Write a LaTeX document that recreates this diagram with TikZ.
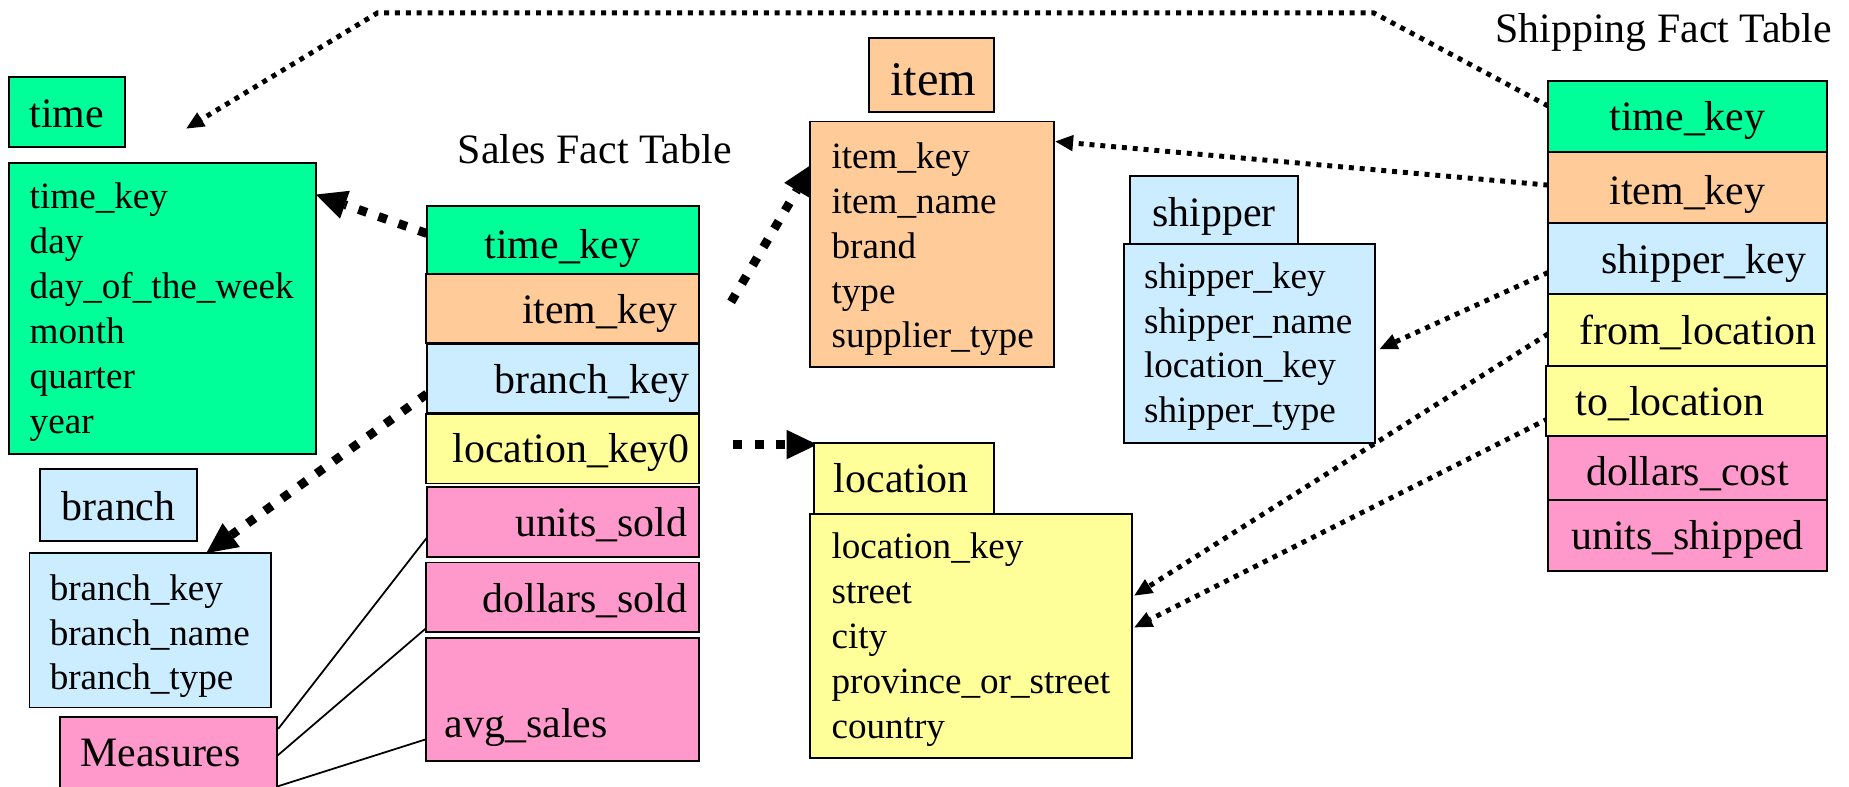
\documentclass[tikz,border=0pt]{standalone}
\usepackage{fontspec}
\setmainfont{Liberation Serif}
\usetikzlibrary{arrows.meta,backgrounds,calc}
\definecolor{keyGreen}{RGB}{0,255,153}
\definecolor{itemPeach}{RGB}{255,204,153}
\definecolor{paleBlue}{RGB}{204,236,255}
\definecolor{paleYellow}{RGB}{255,255,153}
\definecolor{measPink}{RGB}{255,153,204}
\begin{document}
\begin{tikzpicture}[x=1pt,y=-1pt,
  tbl/.style={draw=black,line width=1.6pt,rectangle,inner sep=0pt,outer sep=0pt,anchor=north west},
  fld/.style={font=\fontsize{31.5}{38}\selectfont,inner sep=0pt,anchor=base west},
  ttl/.style={font=\fontsize{35.5}{42}\selectfont,inner sep=0pt,anchor=base west},
  fkthick/.style={line width=7.5pt,dash pattern=on 7.5pt off 10.5pt,
    -{Triangle[length=26pt,width=25pt,line width=0pt]}},
  fkthin/.style={line width=4.2pt,dash pattern=on 4.2pt off 5pt,
    -{Triangle[length=15pt,width=14pt,line width=0pt]}},
  measline/.style={line width=1.5pt}]
\useasboundingbox (0,0) rectangle (1568,667);

% ---- time dimension ----
\node[tbl,fill=keyGreen,minimum width=98,minimum height=60] (timeTab) at (8,65) {};
\node[ttl] (timeName) at (25,108) {time};
\node[tbl,fill=keyGreen,minimum width=260,minimum height=247] (timeBody) at (8,138) {};
\foreach \t [count=\i] in {time\_key,day,day\_of\_the\_week,month,quarter,year}
  \node[fld] (timeF\i) at (25,{177+38.2*(\i-1)}) {\t};

% ---- branch dimension ----
\node[tbl,fill=paleBlue,minimum width=133,minimum height=61] (branchTab) at (34,398) {};
\node[ttl] (branchName) at (52,441) {branch};
\node[tbl,fill=paleBlue,minimum width=205,minimum height=131] (branchBody) at (25,469) {};
\foreach \t [count=\i] in {branch\_key,branch\_name,branch\_type}
  \node[fld] (branchF\i) at (42,{509+38*(\i-1)}) {\t};

% ---- measures ----
\node[tbl,fill=measPink,minimum width=184,minimum height=80] (measTab) at (51,608) {};
\node[ttl] (measName) at (68,650) {Measures};

% ---- sales fact table ----
\node[ttl] (salesTitle) at (388,139) {Sales Fact Table};
\node[tbl,fill=keyGreen,minimum width=231,minimum height=57] (sTime) at (362,175) {};
\node[tbl,fill=itemPeach,minimum width=232,minimum height=59] (sItem) at (361,232) {};
\node[tbl,fill=paleBlue,minimum width=231,minimum height=58] (sBranch) at (362,292) {};
\node[tbl,fill=paleYellow,minimum width=232,minimum height=59] (sLoc) at (361,351) {};
\node[tbl,fill=measPink,minimum width=231,minimum height=59] (sUnits) at (362,413) {};
\node[tbl,fill=measPink,minimum width=232,minimum height=59] (sDollars) at (361,477) {};
\node[tbl,fill=measPink,minimum width=232,minimum height=104] (sAvg) at (361,541) {};
\node[ttl,anchor=base] (sTimeT) at (477,219) {time\_key};
\node[ttl,anchor=base east] (sItemT) at (575,274) {item\_key};
\node[ttl,anchor=base east] (sBranchT) at (585,334) {branch\_key};
\node[ttl,anchor=base east] (sLocT) at (585,392) {location\_key0};
\node[ttl,anchor=base east] (sUnitsT) at (583,455) {units\_sold};
\node[ttl,anchor=base east] (sDollarsT) at (583,519) {dollars\_sold};
\node[ttl] (sAvgT) at (377,625) {avg\_sales};

% ---- item dimension ----
\node[tbl,fill=itemPeach,minimum width=106,minimum height=63] (itemTab) at (737,32) {};
\node[ttl,font=\fontsize{41}{48}\selectfont] (itemName) at (755,81) {item};
\node[tbl,fill=itemPeach,minimum width=207,minimum height=208] (itemBody) at (687,103) {};
\foreach \t [count=\i] in {item\_key,item\_name,brand,type,supplier\_type}
  \node[fld] (itemF\i) at (705,{143+38*(\i-1)}) {\t};

% ---- shipper dimension ----
\node[tbl,fill=paleBlue,minimum width=143,minimum height=59] (shipTab) at (958,149) {};
\node[ttl] (shipName) at (977,192) {shipper};
\node[tbl,fill=paleBlue,minimum width=213,minimum height=169] (shipBody) at (953,207) {};
\foreach \t [count=\i] in {shipper\_key,shipper\_name,location\_key,shipper\_type}
  \node[fld] (shipF\i) at (970,{245+37.7*(\i-1)}) {\t};

% ---- location dimension ----
\node[tbl,fill=paleYellow,minimum width=153,minimum height=60] (locTab) at (690,376) {};
\node[ttl] (locName) at (707,418) {location};
\node[tbl,fill=paleYellow,minimum width=273,minimum height=207] (locBody) at (687,436) {};
\foreach \t [count=\i] in {location\_key,street,city,province\_or\_street,country}
  \node[fld] (locF\i) at (705,{474+38*(\i-1)}) {\t};

% ---- shipping fact table ----
\node[ttl] (shipTitle) at (1268,36) {Shipping Fact Table};
\node[tbl,fill=keyGreen,minimum width=236,minimum height=60] (shTime) at (1313,69) {};
\node[tbl,fill=itemPeach,minimum width=236,minimum height=60] (shItem) at (1313,129) {};
\node[tbl,fill=paleBlue,minimum width=236,minimum height=60] (shShipper) at (1313,189) {};
\node[tbl,fill=paleYellow,minimum width=236,minimum height=61] (shFrom) at (1313,249) {};
\node[tbl,fill=paleYellow,minimum width=238,minimum height=60] (shTo) at (1311,310) {};
\node[tbl,fill=measPink,minimum width=236,minimum height=54] (shCost) at (1313,370) {};
\node[tbl,fill=measPink,minimum width=236,minimum height=60] (shUnits) at (1313,424) {};
\node[ttl,anchor=base] (shTimeT) at (1431,111) {time\_key};
\node[ttl,anchor=base] (shItemT) at (1431,173) {item\_key};
\node[ttl,anchor=base] (shShipperT) at (1445,232) {shipper\_key};
\node[ttl,anchor=base] (shFromT) at (1440,292) {from\_location};
\node[ttl,anchor=base] (shToT) at (1416,352) {to\_location};
\node[ttl,anchor=base] (shCostT) at (1431,412) {dollars\_cost};
\node[ttl,anchor=base] (shUnitsT) at (1431,466) {units\_shipped};

% free ends of connectors
\coordinate (itemFrom) at (620,256);
\coordinate (locFrom) at (622,377);
\coordinate (bendR) at (1165,11);
\coordinate (bendL) at (320,11);
\coordinate (timeMark) at (158,109);

\begin{scope}[on background layer]
  % sales fact table keys
  \draw[fkthick] ($(sTime.north west)+(0,23)$) -- ($(timeBody.north east)+(0,27)$);
  \draw[fkthick] ($(sBranch.north west)+(0,42)$) -- ($(branchBody.north west)+(150,0)$);
  \draw[fkthick] (itemFrom) -- ($(itemBody.north west)+(2,36)$);
  \draw[fkthick] (locFrom) -- ($(locTab.north west)+(3,1)$);
  % shipping fact table keys
  \draw[fkthin] ($(shTime.north west)+(0,21)$) -- (bendR) -- (bendL) -- (timeMark);
  \draw[fkthin] ($(shItem.north west)+(0,28)$) -- ($(itemBody.north east)+(1,17)$);
  \draw[fkthin] ($(shShipper.north west)+(0,42)$) -- ($(shipBody.north east)+(4,89)$);
  \draw[fkthin] ($(shFrom.north west)+(0,34)$) -- ($(locBody.north east)+(2,69)$);
  \draw[fkthin] ($(shTo.north west)+(2,45)$) -- ($(locBody.north east)+(2,96)$);
  % measures
  \draw[measline] ($(measTab.north east)+(1,10)$) -- ($(sUnits.north west)+(0,43)$);
  \draw[measline] ($(measTab.north east)+(0,33)$) -- ($(sDollars.south west)+(0,-3)$);
  \draw[measline] ($(measTab.north east)+(0,59)$) -- ($(sAvg.north west)+(0,86)$);
\end{scope}
\end{tikzpicture}
\end{document}
